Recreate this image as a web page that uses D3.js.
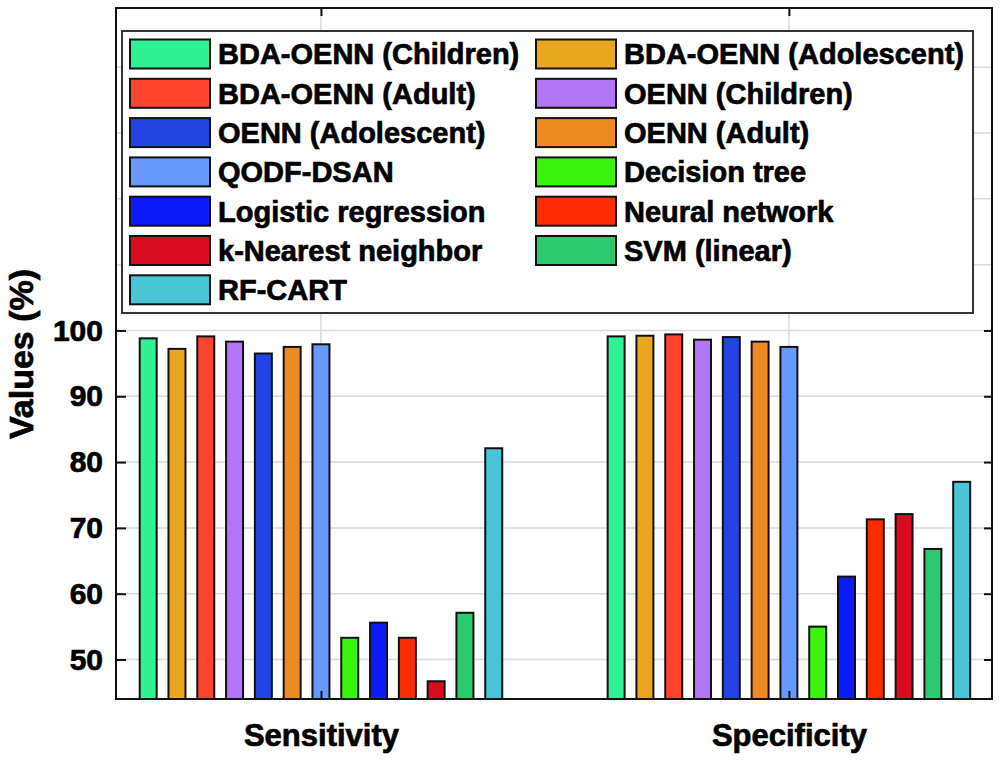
<!DOCTYPE html>
<html>
<head>
<meta charset="utf-8">
<script src="https://cdn.jsdelivr.net/npm/d3@7"></script>
<style>
  body { margin: 0; background: #fff; }
  text { font-family: "Liberation Sans", Arial, Helvetica, sans-serif; font-weight: bold; fill: #000;
         stroke: #000; stroke-width: 0.7px; }
</style>
</head>
<body>
<svg width="1000" height="761"></svg>
<script>
// values
const categories = ['Sensitivity', 'Specificity'];
const methods = [
  'BDA-OENN (Children)', 'BDA-OENN (Adolescent)', 'BDA-OENN (Adult)', 'OENN (Children)',
  'OENN (Adolescent)', 'OENN (Adult)', 'QODF-DSAN', 'Decision tree',
  'Logistic regression', 'Neural network', 'k-Nearest neighbor', 'SVM (linear)', 'RF-CART'
];
const sensitivity = [98.8, 97.2, 99.1, 98.3, 96.5, 97.5, 97.9, 53.3, 55.6, 53.3, 46.7, 57.1, 82.1];
const specificity = [99.1, 99.2, 99.4, 98.6, 99.0, 98.3, 97.5, 55.0, 62.6, 71.3, 72.1, 66.8, 77.0];
const yTicks = [50, 60, 70, 80, 90, 100];

const colors = ['#2ef193', '#e9a71f', '#fe442c', '#b175f8', '#2143e1', '#ee8a22', '#6699fb',
                '#3af40e', '#0b1bfb', '#fd2b00', '#da0a1f', '#2dc96e', '#48c6d6'];

const svg = d3.select('svg');
const width = +svg.attr('width');
const height = +svg.attr('height');
const margin = {top: 8, right: 8, bottom: 62, left: 116};

const table = categories.map((c, i) => ({
  cat: i + 1,
  vals: methods.map((m, j) => ({m, v: (i === 0 ? sensitivity : specificity)[j]}))
}));

const x0 = d3.scaleLinear().domain([0.562, 2.434]).range([margin.left, width - margin.right]);
const groupW = x0(1.4) - x0(1);
const x1 = d3.scaleBand().domain(methods).range([-groupW, groupW])
  .paddingInner(0.41).paddingOuter(0.205);
const y = d3.scaleLinear().domain([44, 149]).range([height - margin.bottom, margin.top]);
const color = d3.scaleOrdinal().domain(methods).range(colors);

// grid
const grid = svg.append('g').attr('stroke', '#d3dbdb').attr('stroke-width', 1.5);
grid.selectAll('.hg').data(y.ticks(10)).enter().append('line')
  .attr('x1', margin.left).attr('x2', width - margin.right)
  .attr('y1', d => y(d)).attr('y2', d => y(d));
grid.selectAll('.vg').data([1, 2]).enter().append('line')
  .attr('x1', d => x0(d)).attr('x2', d => x0(d))
  .attr('y1', margin.top).attr('y2', height - margin.bottom);

// bars
const groups = svg.selectAll('.grp').data(table).enter().append('g')
  .attr('transform', d => `translate(${x0(d.cat)},0)`);
groups.selectAll('rect').data(d => d.vals).enter().append('rect')
  .attr('x', d => x1(d.m))
  .attr('width', x1.bandwidth())
  .attr('y', d => y(d.v))
  .attr('height', d => y.range()[0] - y(d.v))
  .attr('fill', d => color(d.m))
  .attr('stroke', '#111').attr('stroke-width', 2);

// axes with inward ticks
const yl = svg.append('g').attr('transform', `translate(${margin.left},0)`)
  .call(d3.axisLeft(y).tickValues(yTicks).tickSizeInner(-10).tickSizeOuter(0).tickPadding(13));
const yr = svg.append('g').attr('transform', `translate(${width - margin.right},0)`)
  .call(d3.axisRight(y).tickValues(yTicks).tickSizeInner(-8).tickSizeOuter(0).tickFormat(''));
const xb = svg.append('g').attr('transform', `translate(0,${height - margin.bottom})`)
  .call(d3.axisBottom(x0).tickValues([1, 2]).tickSizeInner(-8).tickSizeOuter(0).tickPadding(25)
    .tickFormat(d => categories[d - 1]));
const xt = svg.append('g').attr('transform', `translate(0,${margin.top})`)
  .call(d3.axisTop(x0).tickValues([1, 2]).tickSizeInner(-8).tickSizeOuter(0).tickFormat(''));

[yl, yr, xb, xt].forEach(a => {
  a.select('.domain').remove();
  a.selectAll('line').attr('stroke', '#111').attr('stroke-width', 2);
  a.selectAll('text').attr('font-family', null).style('font-size', '30px').attr('fill', '#000');
});
xb.selectAll('text').style('font-size', '31px');

svg.append('rect')
  .attr('x', margin.left).attr('y', margin.top)
  .attr('width', width - margin.left - margin.right)
  .attr('height', height - margin.top - margin.bottom)
  .attr('fill', 'none').attr('stroke', '#111').attr('stroke-width', 2);

svg.append('text')
  .attr('transform', `translate(33,354) rotate(-90)`)
  .attr('text-anchor', 'middle')
  .style('font-size', '34px')
  .text('Values (%)');

// legend
const lg = svg.append('g');
lg.append('rect').attr('x', 122).attr('y', 31).attr('width', 851).attr('height', 282)
  .attr('fill', '#fff').attr('stroke', '#333').attr('stroke-width', 2);
const item = lg.selectAll('.item').data(methods).enter().append('g')
  .attr('transform', (d, i) => `translate(${i % 2 ? 536 : 130},${54 + Math.floor(i / 2) * 39.3})`);
item.append('rect').attr('x', 0).attr('y', -14.5).attr('width', 80).attr('height', 29)
  .attr('fill', d => color(d)).attr('stroke', '#111').attr('stroke-width', 2);
item.append('text').attr('x', 88).attr('dy', '0.36em')
  .style('font-size', '29px').text(d => d);
</script>
</body>
</html>
